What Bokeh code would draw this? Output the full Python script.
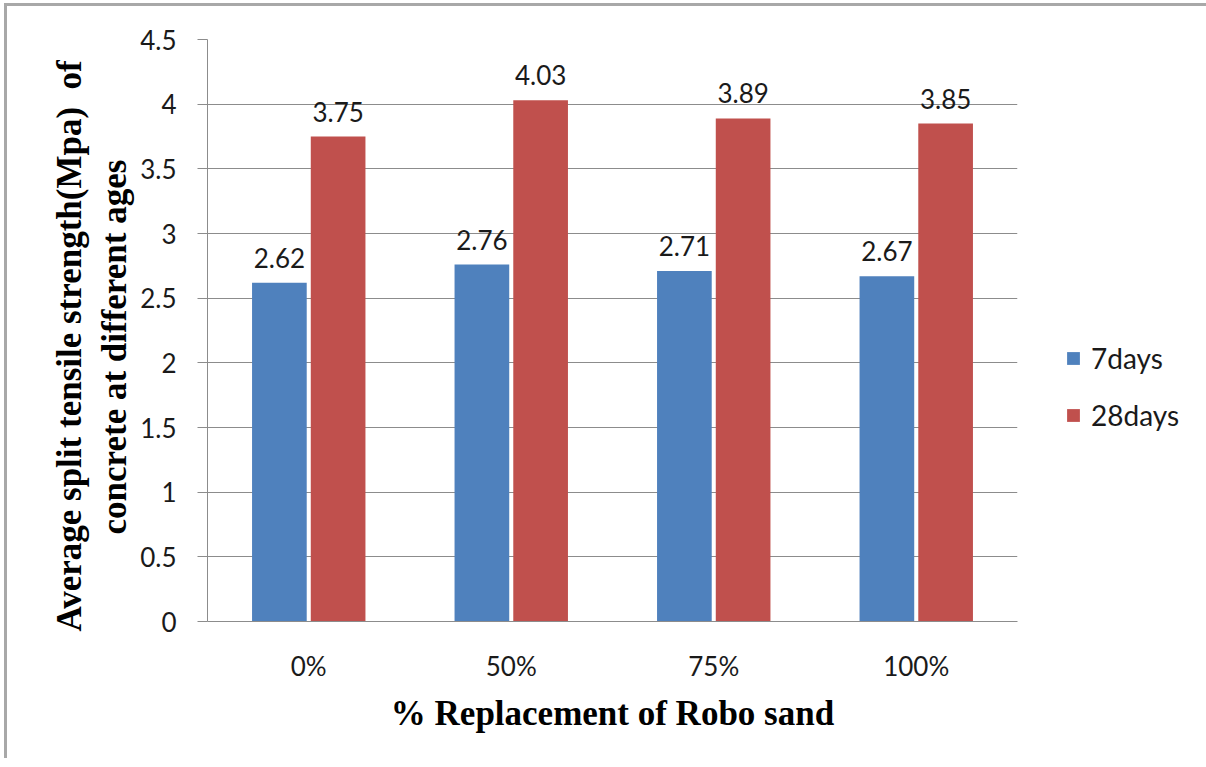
from bokeh.plotting import figure
from bokeh.models import ColumnDataSource, Legend, LegendItem, Title, FixedTicker
from bokeh.transform import dodge
from bokeh.core.properties import value
from bokeh.embed import file_html
from bokeh.resources import INLINE

# ---- data ----
categories = ["0%", "50%", "75%", "100%"]
days7 = [2.62, 2.76, 2.71, 2.67]
days28 = [3.75, 4.03, 3.89, 3.85]
series_names = ["7days", "28days"]
series_colors = ["#4F81BD", "#C0504D"]
y_ticks = [0, 0.5, 1, 1.5, 2, 2.5, 3, 3.5, 4, 4.5]
y_tick_labels = ["0", "0.5", "1", "1.5", "2", "2.5", "3", "3.5", "4", "4.5"]
x_title = "% Replacement of Robo sand"
y_title_line1 = "Average split tensile strength(Mpa)\u00a0\u00a0of"
y_title_line2 = "concrete at different ages"

src = ColumnDataSource(dict(
    cat=categories,
    d7=days7,
    d28=days28,
    l7=[f"{v:.2f}" for v in days7],
    l28=[f"{v:.2f}" for v in days28],
))

TICK_FONT = "Lato"
FS = "26px"
GRID = "#8c8c8c"

p = figure(
    x_range=categories, y_range=(0, 4.5),
    frame_width=810, frame_height=582,
    min_border_left=200, min_border_right=170,
    min_border_top=33, min_border_bottom=137,
    output_backend="svg", toolbar_location=None, title=None,
)
p.styles = {"border-top": "3px solid #a8a8a8", "border-left": "3px solid #a8a8a8",
            "margin-left": "4px", "margin-top": "3px"}
p.outline_line_color = None
p.background_fill_color = "white"
p.border_fill_color = "white"

bw = 0.27
off = 0.145
r7 = p.vbar(x=dodge("cat", -off, range=p.x_range), top="d7", width=bw, source=src,
            fill_color=series_colors[0], line_color=None)
r28 = p.vbar(x=dodge("cat", off, range=p.x_range), top="d28", width=bw, source=src,
             fill_color=series_colors[1], line_color=None)

for xo, ycol, tcol in ((-off, "d7", "l7"), (off, "d28", "l28")):
    p.text(x=dodge("cat", xo, range=p.x_range), y=ycol, text=tcol, source=src,
           text_align="center", text_baseline="alphabetic", y_offset=-25,
           text_font=value(TICK_FONT), text_font_size=FS, text_color="#1a1a1a")

# grid
p.xgrid.grid_line_color = None
p.ygrid.grid_line_color = GRID
p.ygrid.grid_line_width = 1
p.ygrid.ticker = FixedTicker(ticks=y_ticks)

# y axis
ya = p.yaxis[0]
ya.ticker = FixedTicker(ticks=y_ticks)
ya.major_label_overrides = {t: l for t, l in zip(y_ticks, y_tick_labels)}
ya.axis_line_color = GRID
ya.major_tick_line_color = GRID
ya.major_tick_out = 10
ya.major_tick_in = 0
ya.minor_tick_line_color = None
ya.major_label_standoff = 21
ya.major_label_text_font = TICK_FONT
ya.major_label_text_font_size = FS
ya.major_label_text_color = "#1a1a1a"

# x axis
xa = p.xaxis[0]
xa.axis_line_color = GRID
xa.major_tick_line_color = None
xa.minor_tick_line_color = None
xa.major_label_standoff = 22
xa.major_label_text_font = TICK_FONT
xa.major_label_text_font_size = FS
xa.major_label_text_color = "#1a1a1a"
xa.axis_label = x_title
xa.axis_label_text_font = "Liberation Serif"
xa.axis_label_text_font_style = "bold"
xa.axis_label_text_font_size = "35px"
xa.axis_label_text_color = "#000000"
xa.axis_label_standoff = 9

# y title (two lines); align "left" = starts at frame bottom, offset shifts up
t2 = Title(text=y_title_line2, align="left", text_font="Liberation Serif",
           text_font_style="bold", text_font_size="35px", text_color="#000000",
           standoff=8, offset=87)
t1 = Title(text=y_title_line1, align="left", text_font="Liberation Serif",
           text_font_style="bold", text_font_size="35px", text_color="#000000",
           standoff=0, offset=-10)
p.add_layout(t2, "left")
p.add_layout(t1, "left")

legend = Legend(items=[LegendItem(label=series_names[0], renderers=[r7]),
                       LegendItem(label=series_names[1], renderers=[r28])],
                location=(48, 189), orientation="vertical",
                glyph_width=16, glyph_height=16, label_height=30,
                spacing=23, padding=0, margin=0, border_line_color=None,
                background_fill_alpha=0,
                label_text_font=TICK_FONT, label_text_font_size="28px",
                label_text_color="#1a1a1a", label_standoff=10)
p.add_layout(legend, "right")

open("out.html", "w").write(file_html(p, INLINE))
